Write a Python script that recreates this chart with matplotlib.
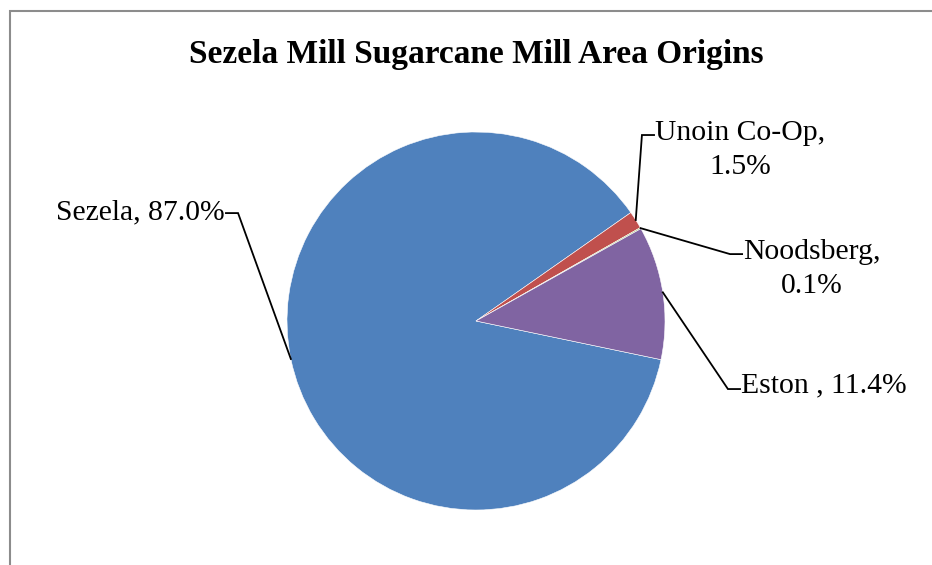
import numpy as np
import matplotlib
matplotlib.use("Agg")
import matplotlib.pyplot as plt
from matplotlib.patches import Rectangle

# data
labels = ["Sezela", "Unoin Co-Op", "Noodsberg", "Eston "]
values = [87.0, 1.5, 0.1, 11.4]
colors = ["#4F81BD", "#C0504D", "#9BBB59", "#8064A2"]

# label layout (elbow point of leader) in radius units
elbows = [(-1.259, 0.571), (0.878, 0.984), (1.344, 0.354), (1.333, -0.360)]
sides = [-1, 1, 1, 1]

W, H = 932, 565
fig = plt.figure(figsize=(W / 100, H / 100), dpi=100)
plt.rcParams["font.family"] = ["Liberation Serif", "DejaVu Serif"]

# pie axes: centre (476, 321) px, radius 189 px
cx, cy, r = 476, 321, 189
ax = fig.add_axes([(cx - r) / W, (H - cy - r) / H, 2 * r / W, 2 * r / H])
wedges, _ = ax.pie(values, colors=colors, startangle=-11.8, counterclock=False,
                   radius=1, wedgeprops=dict(edgecolor="white", linewidth=0.4))
ax.set_xlim(-1, 1)
ax.set_ylim(-1, 1)
ax.set_aspect("equal")
ax.axis("off")

fs = 21.3
for w, lab, val, (ex, ey), s in zip(wedges, labels, values, elbows, sides):
    ang = np.deg2rad((w.theta1 + w.theta2) / 2)
    px, py = np.cos(ang), np.sin(ang)
    endx = ex + s * 0.064
    ax.plot([px, ex, endx], [py, ey, ey], color="black", lw=1.3,
            clip_on=False, solid_joinstyle="miter")
    if lab == "Sezela":
        ax.text(endx - 0.005, ey + 0.005, f"{lab}, {val:.1f}%", ha="right",
                va="center", fontsize=fs)
    elif lab.startswith("Eston"):
        ax.text(endx + 0.005, ey + 0.02, f"{lab}, {val:.1f}%", ha="left",
                va="center", fontsize=fs)
    else:
        # two-line label, first line level with the leader
        t = ax.text(endx + 0.005, ey + 0.012, f"{lab},", ha="left",
                    va="center", fontsize=fs)
        ax.annotate(f"{val:.1f}%", xy=(0.5, 0), xycoords=t, xytext=(0, -6),
                    textcoords="offset points", ha="center", va="top",
                    fontsize=fs)

fig.text(476 / W, 1 - 55 / H, "Sezela Mill Sugarcane Mill Area Origins",
         ha="center", va="center", fontsize=24, fontweight="bold")

# chart border (cropped on right and bottom)
fig.patches.append(Rectangle((9.5 / W, -0.1), 1.2, 1 - 10.5 / H + 0.1,
                             transform=fig.transFigure, fill=False,
                             edgecolor="#8c8c8c", lw=1.5))

fig.savefig("out.png", dpi=100)
